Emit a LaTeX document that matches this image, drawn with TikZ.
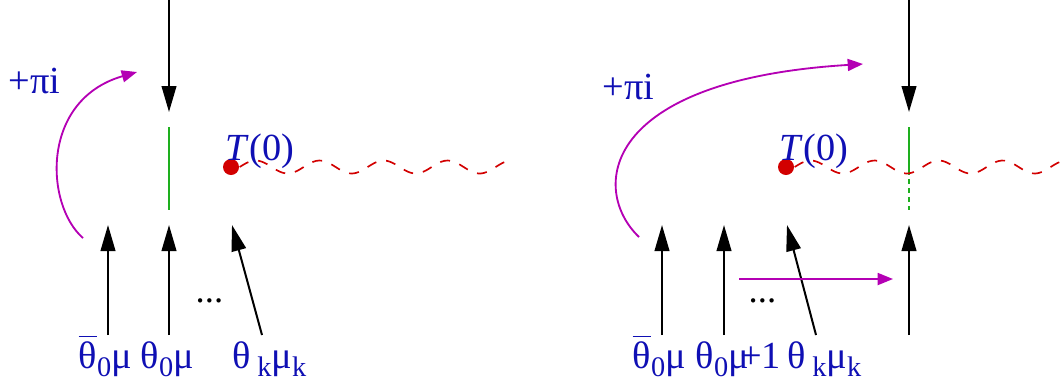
\documentclass[tikz,border=0pt]{standalone}
\usepackage{fontspec}
\setmainfont{Liberation Serif}
\usetikzlibrary{arrows.meta,positioning}
\definecolor{labelblue}{RGB}{15,15,180}
\definecolor{cutgreen}{RGB}{30,175,30}
\definecolor{polered}{RGB}{210,0,0}
\definecolor{shiftmag}{RGB}{180,0,180}
\tikzset{
  lbl/.style={text=labelblue,inner sep=0pt,anchor=base west,font=\fontsize{11.5}{13}\selectfont},
  dotslbl/.style={inner sep=0pt,anchor=base west,font=\fontsize{11}{13}\selectfont},
  ray/.style={-{Triangle[length=7.8pt,width=4.4pt]},line width=0.6pt,black},
  shiftarr/.style={-{Triangle[length=4.6pt,width=3.6pt]},line width=0.55pt,color=shiftmag},
  cut/.style={line width=0.6pt,color=cutgreen},
  cutdash/.style={cut,dash pattern=on 1.6pt off 1.1pt},
  branch/.style={dashed,line width=0.5pt,color=polered},
  pole/.style={circle,fill=polered,inner sep=0pt,minimum size=4.8pt}
}
\newcommand{\thbar}{$\overline{\hbox{θ}}$}
\newcommand{\lowsub}[1]{\raisebox{-2.6pt}{\fontsize{8.5}{9}\selectfont #1}}

\begin{document}
\begin{tikzpicture}[x=0.3pt,y=-0.3pt]
  \useasboundingbox (0,0) rectangle (1062,388);

  %% Left panel: incoming ray, cut and pole
  \coordinate (inL) at (169,0);
  \coordinate (tipL) at (169,112);
  \draw[ray] (inL) -- (tipL);
  \coordinate (cutLa) at (169,127);
  \coordinate (cutLb) at (169,210);
  \draw[cut] (cutLa) -- (cutLb);
  \node[pole] (poleL) at (231,167) {};
  \node[lbl] (tL) at (225,160) {\textit{T}(0)};
  \draw[branch,shift={(poleL.east)}] plot[domain=0:272,samples=90] (\x,{-6.5*sin(\x*5.625)});

  %% Left panel: outgoing rays
  \coordinate (r1a) at (108,335);
  \coordinate (r1b) at (108,225);
  \coordinate (r2a) at (169,335);
  \coordinate (r2b) at (169,225);
  \coordinate (r3a) at (262,335);
  \coordinate (r3b) at (232,225);
  \draw[ray] (r1a) -- (r1b);
  \draw[ray] (r2a) -- (r2b);
  \draw[ray] (r3a) -- (r3b);
  \node[dotslbl] (dotsL) at (195,302) {...};
  \node[lbl] (barL) at (78,368) {\thbar\lowsub{0}μ};
  \node[lbl] (thL) at (140,368) {θ\lowsub{0}μ};
  \node[lbl] (kL) at (232,368) {θ\,\lowsub{k}μ\lowsub{k}};

  %% Left panel: shift by pi i
  \node[lbl] (piL) at (8,93) {+πi};
  \coordinate (sLa) at (83,238);
  \coordinate (sLb) at (137,72);
  \draw[shiftarr] (sLa) .. controls (45,205) and (40,100) .. (sLb);

  %% Right panel: incoming ray, cut and pole
  \coordinate (inR) at (909,0);
  \coordinate (tipR) at (909,112);
  \draw[ray] (inR) -- (tipR);
  \coordinate (cutRa) at (909,127);
  \coordinate (cutRb) at (909,170);
  \coordinate (cutRc) at (909,210);
  \draw[cut] (cutRa) -- (cutRb);
  \draw[cutdash] (cutRb) -- (cutRc);
  \node[pole] (poleR) at (786,167) {};
  \node[lbl] (tR) at (779,160) {\textit{T}(0)};
  \draw[branch,shift={(poleR.east)}] plot[domain=0:275,samples=90] (\x,{-6.5*sin(\x*5.625)});

  %% Right panel: outgoing rays
  \coordinate (q1a) at (662,335);
  \coordinate (q1b) at (662,225);
  \coordinate (q2a) at (724,335);
  \coordinate (q2b) at (724,225);
  \coordinate (q3a) at (816,335);
  \coordinate (q3b) at (787,225);
  \coordinate (q4a) at (909,335);
  \coordinate (q4b) at (909,225);
  \draw[ray] (q1a) -- (q1b);
  \draw[ray] (q2a) -- (q2b);
  \draw[ray] (q3a) -- (q3b);
  \draw[ray] (q4a) -- (q4b);
  \node[dotslbl] (dotsR) at (748,302) {...};
  \node[lbl] (barR) at (632,368) {\thbar\lowsub{0}μ};
  \node[lbl] (thR) at (695,368) {θ\lowsub{0}μ\kern-2.6pt+1};
  \node[lbl] (kR) at (787,368) {θ\,\lowsub{k}μ\lowsub{k}};

  %% Right panel: shift by pi i and move of the ray
  \node[lbl] (piR) at (602,99) {+πi};
  \coordinate (sRa) at (639,237);
  \coordinate (sRb) at (863,64);
  \draw[shiftarr] (sRa) .. controls (590,190) and (600,80) .. (sRb);
  \coordinate (mRa) at (739,279);
  \coordinate (mRb) at (893,279);
  \draw[shiftarr] (mRa) -- (mRb);
\end{tikzpicture}
\end{document}
